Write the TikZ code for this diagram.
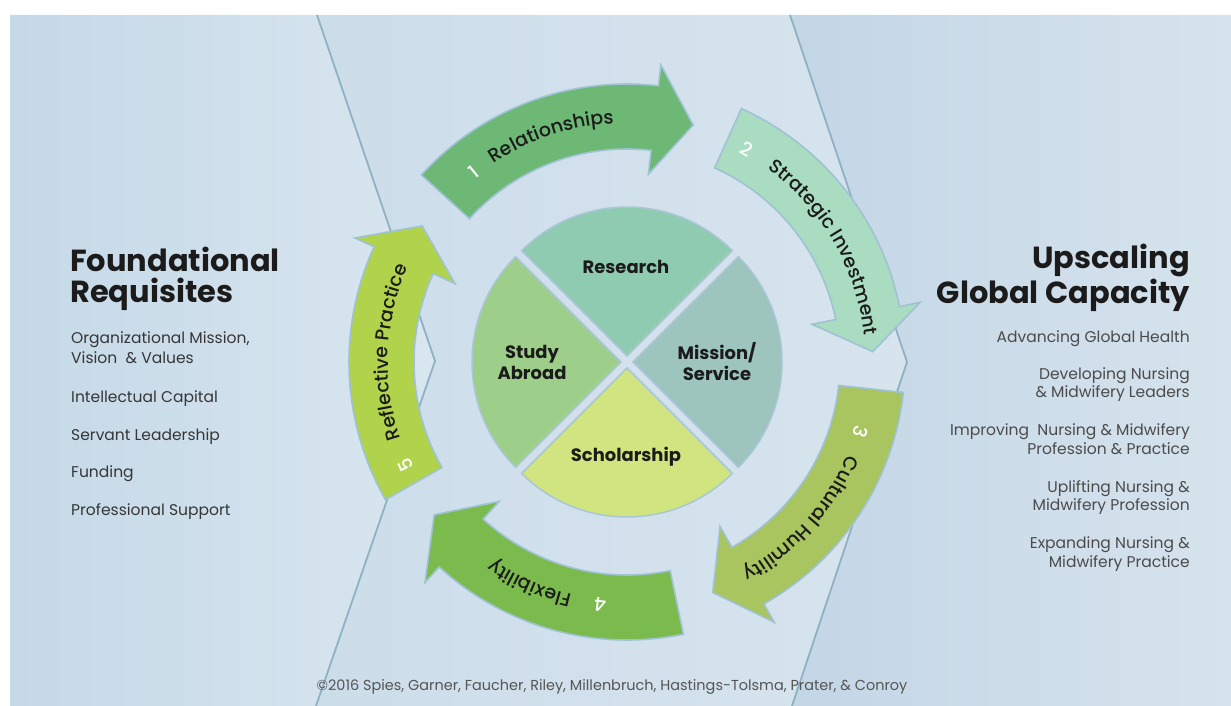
\documentclass[tikz,border=0pt]{standalone}
\usepackage{fontspec}
\setmainfont{Poppins}
\newfontfamily\medfam{Poppins Medium}
\usetikzlibrary{decorations.text}
\definecolor{panLa}{HTML}{C5D9E8}
\definecolor{panLb}{HTML}{D9E6EF}
\definecolor{panMa}{HTML}{CCDDEA}
\definecolor{panMb}{HTML}{D7E4EE}
\definecolor{panRa}{HTML}{C3D6E6}
\definecolor{panRb}{HTML}{D6E3ED}
\definecolor{bline}{HTML}{8FB1C4}
\definecolor{arrA}{HTML}{6CB874}
\definecolor{arrB}{HTML}{AADCC1}
\definecolor{arrC}{HTML}{A9C55F}
\definecolor{arrD}{HTML}{7BBB4E}
\definecolor{arrE}{HTML}{B0D34B}
\definecolor{aout}{HTML}{9FC2D4}
\definecolor{wRes}{HTML}{8FCBB1}
\definecolor{wMis}{HTML}{9DC4BD}
\definecolor{wStu}{HTML}{9DCF8B}
\definecolor{wSch}{HTML}{D0E480}
\definecolor{wout}{HTML}{A9C7D7}
\definecolor{darktxt}{HTML}{1B1B1B}
\definecolor{listL}{HTML}{363636}
\definecolor{listR}{HTML}{4B4B4B}
\definecolor{copyc}{HTML}{555555}
\newcommand\arrowfont{\medfam\fontsize{19}{21}\selectfont}
\newcommand\RingArrow[2]{%
  \pgfmathsetmacro\ta{#1}%
  \pgfmathsetmacro\hb{#1-54.2}%
  \pgfmathsetmacro\tp{#1-63.3}%
  \draw[ringarrow, fill=#2] (\ta:278) arc[start angle=\ta, end angle=\hb, radius=278]
    -- (\hb:299) -- (\tp:246) -- (\hb:189) -- (\hb:213)
    arc[start angle=\hb, end angle=\ta, radius=213] -- cycle;}
\newcommand\ArcLabel[2]{%
  \pgfmathsetmacro\sa{#1+35}%
  \pgfmathsetmacro\ea{#1-35}%
  \path[decorate, decoration={text along path, text={|\arrowfont\color{darktxt}|#2}, text align=center}]
    (\sa:239) arc[start angle=\sa, end angle=\ea, radius=239];}
\tikzset{
  ringarrow/.style={draw=aout, line width=1.6bp, line join=miter},
  wedge/.style={draw=wout, line width=1.5bp},
  bnd/.style={draw=bline, line width=1.8bp},
  num/.style={text=white, font=\arrowfont, inner sep=0pt},
  pielab/.style={text=darktxt, font=\fontsize{18}{21}\selectfont\bfseries, align=center, inner sep=0pt},
  head/.style={text=darktxt, font=\fontsize{30.6}{32}\selectfont\bfseries, inner sep=0pt},
  litemL/.style={text=listL, font=\fontsize{15.6}{17}\selectfont, inner sep=0pt, anchor=base west},
  litemR/.style={text=listR, font=\fontsize{15.6}{17}\selectfont, inner sep=0pt, anchor=base east},
}
\begin{document}
\begin{tikzpicture}[x=1bp, y=1bp]
\useasboundingbox (0,0) rectangle (1231,-706);
\fill[white] (0,0) rectangle (1231,-706);
% panels
\shade[left color=panLa, right color=panLb] (10,-15) -- (317,-15) -- (435,-361) -- (316,-706) -- (10,-706) -- cycle;
\shade[left color=panMa, right color=panMb] (317,-15) -- (790,-15) -- (907,-362) -- (792,-706) -- (316,-706) -- (435,-361) -- cycle;
\shade[left color=panRa, right color=panRb] (790,-15) -- (1231,-15) -- (1231,-706) -- (792,-706) -- (907,-362) -- cycle;
\coordinate (lt) at (317,-15);
\coordinate (lm) at (435,-361);
\coordinate (lb) at (316,-706);
\coordinate (rt) at (790,-15);
\coordinate (rm) at (907,-362);
\coordinate (rb) at (792,-706);
\draw[bnd] (lt) -- (lm) -- (lb);
\draw[bnd] (rt) -- (rm) -- (rb);
% centre
\coordinate (C) at (627,-362);
\begin{scope}[shift={(C)}]
  % pie wedges
  \draw[wedge, fill=wRes] (90:6) -- ++(135:149) arc[start angle=135, end angle=45, radius=149] -- cycle;
  \draw[wedge, fill=wMis] (0:6) -- ++(45:149) arc[start angle=45, end angle=-45, radius=149] -- cycle;
  \draw[wedge, fill=wSch] (-90:6) -- ++(-45:149) arc[start angle=-45, end angle=-135, radius=149] -- cycle;
  \draw[wedge, fill=wStu] (180:6) -- ++(225:149) arc[start angle=225, end angle=135, radius=149] -- cycle;
  % ring arrows
  \RingArrow{137.7}{arrA}
  \RingArrow{65.7}{arrB}
  \RingArrow{-6.3}{arrC}
  \RingArrow{-78.3}{arrD}
  \RingArrow{209.7}{arrE}
  % labels along arrows
  \ArcLabel{108.5}{Relationships}
  \ArcLabel{30.2}{Strategic Investment}
  \ArcLabel{-42}{Cultural Humility}
  \ArcLabel{-113.75}{Flexibility}
  \ArcLabel{177.55}{Reflective Practice}
  \node[num, rotate=39] (n1) at (129:244) {1};
  \node[num, rotate=-29.3] (n2) at (60.7:244) {2};
  \node[num, rotate=-106.6] (n3) at (-16.6:244) {3};
  \node[num, rotate=-186.3] (n4) at (-96.3:244) {4};
  \node[num, rotate=114.9] (n5) at (204.9:244) {5};
\end{scope}
% pie labels
\node[pielab] (res) at (626,-267) {Research};
\node[pielab] (stu) at (532,-362) {Study\\Abroad};
\node[pielab] (mis) at (717,-362) {Mission/\\Service};
\node[pielab] (sch) at (626,-457) {Scholarship};
% left column
\node[head, anchor=base west] (fh1) at (70,-271) {Foundational};
\node[head, anchor=base west] (fh2) at (70,-302) {Requisites};
\node[litemL] (l1a) at (71,-343) {Organizational Mission,};
\node[litemL] (l1b) at (71,-363) {Vision\ \ \& Values};
\node[litemL] (l2) at (71,-402) {Intellectual Capital};
\node[litemL] (l3) at (71,-440) {Servant Leadership};
\node[litemL] (l4) at (71,-477) {Funding};
\node[litemL] (l5) at (71,-515) {Professional Support};
% right column
\node[head, anchor=base east] (uh1) at (1190,-268) {Upscaling};
\node[head, anchor=base east] (uh2) at (1190,-303) {Global Capacity};
\node[litemR] (r1) at (1190,-342) {Advancing Global Health};
\node[litemR] (r2a) at (1190,-379) {Developing Nursing};
\node[litemR] (r2b) at (1190,-397) {\& Midwifery Leaders};
\node[litemR] (r3a) at (1190,-435) {Improving\ \ Nursing \& Midwifery};
\node[litemR] (r3b) at (1190,-454) {Profession \& Practice};
\node[litemR] (r4a) at (1190,-492) {Uplifting Nursing \&};
\node[litemR] (r4b) at (1190,-510) {Midwifery Profession};
\node[litemR] (r5a) at (1190,-548) {Expanding Nursing \&};
\node[litemR] (r5b) at (1190,-567) {Midwifery Practice};
% copyright
\node[text=copyc, font=\fontsize{14.5}{16}\selectfont, inner sep=0pt, anchor=base] (copy) at (612,-690) {©2016 Spies, Garner, Faucher, Riley, Millenbruch, Hastings-Tolsma, Prater, \& Conroy};
\end{tikzpicture}
\end{document}
